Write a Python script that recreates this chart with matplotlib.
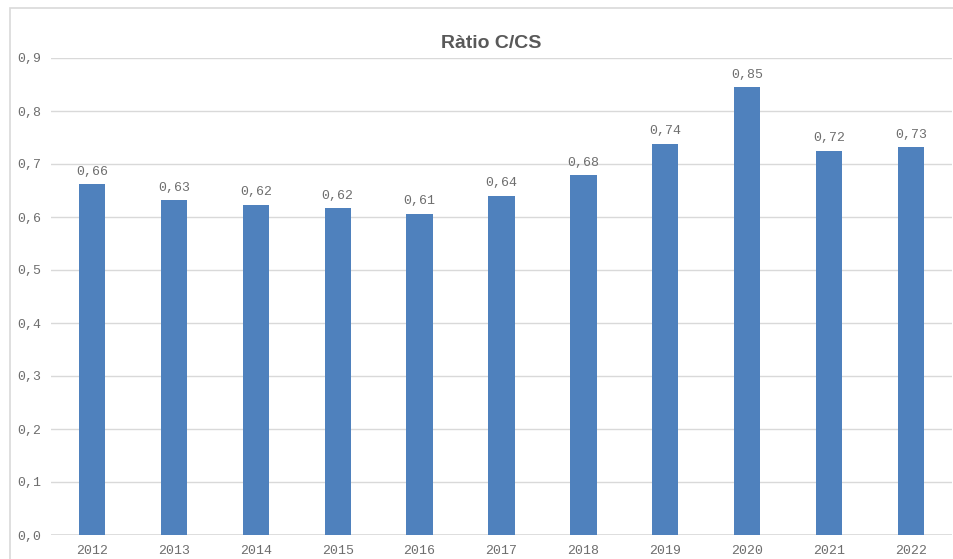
import numpy as np
import matplotlib.pyplot as plt
from matplotlib.patches import Rectangle

years = ["2012", "2013", "2014", "2015", "2016", "2017", "2018", "2019", "2020", "2021", "2022"]
ratio = [0.662, 0.632, 0.623, 0.617, 0.606, 0.640, 0.679, 0.738, 0.845, 0.725, 0.732]
labels = ["0,66", "0,63", "0,62", "0,62", "0,61", "0,64", "0,68", "0,74", "0,85", "0,72", "0,73"]
yticks = [0.0, 0.1, 0.2, 0.3, 0.4, 0.5, 0.6, 0.7, 0.8, 0.9]

mono = "Liberation Mono"
txt = "#6e6e6e"

fig = plt.figure(figsize=(9.54, 5.59), dpi=100)
fig.patches.append(Rectangle((10/954, -0.1), 1.1, 1 - 8/559 + 0.1, transform=fig.transFigure,
                             fill=False, edgecolor="#d9d9d9", linewidth=1.2))
ax = fig.add_axes([51/954, 1 - 535/559, 901/954, (535 - 58)/559])

x = np.arange(len(years))
ax.bar(x, ratio, width=0.32, color="#4f81bd", zorder=3)
for xi, v, lab in zip(x, ratio, labels):
    ax.text(xi, v + 0.012, lab, ha="center", va="bottom", fontsize=9.5, family=mono, color=txt)

ax.set_xlim(-0.5, len(years) - 0.5)
ax.set_ylim(0, 0.9)
ax.set_yticks(yticks)
ax.set_yticklabels([f"{t:.1f}".replace(".", ",") for t in yticks], family=mono, fontsize=9.5, color=txt)
ax.set_xticks(x)
ax.set_xticklabels(years, family=mono, fontsize=9.5, color=txt)
ax.tick_params(length=0, pad=7)
ax.grid(axis="y", color="#d9d9d9", linewidth=1, zorder=0)
for s in ax.spines.values():
    s.set_visible(False)
ax.axhline(0, color="#d9d9d9", linewidth=1.2, zorder=2)

fig.text(491/954, 1 - 43/559, "Ràtio C/CS", ha="center", va="center", fontsize=14,
         fontweight="bold", family="Liberation Sans", color="#595959")

fig.savefig("out.png", dpi=100)
